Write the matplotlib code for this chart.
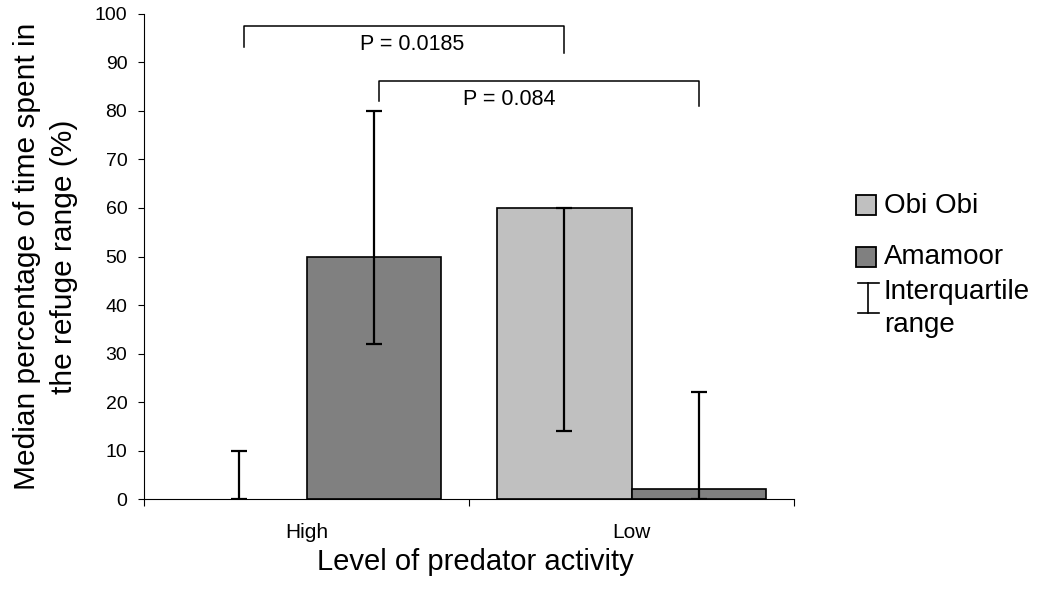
import matplotlib
matplotlib.use("Agg")
from matplotlib import pyplot as plt
from matplotlib.patches import Rectangle
from matplotlib.lines import Line2D
import numpy as np

plt.rcParams['font.family'] = ['Liberation Sans', 'DejaVu Sans']

# data
groups = ["High", "Low"]
sites = ["Obi Obi", "Amamoor"]
obi_median = [0, 60]
obi_q1 = [0, 14]
obi_q3 = [10, 60]
amamoor_median = [50, 2]
amamoor_q1 = [32, 0]
amamoor_q3 = [80, 22]
colors = ["#c0c0c0", "#808080"]

# pairwise comparisons: (site index, bracket top, left leg end, right leg end, label)
comp_site = [0, 1]
comp_top = [97.5, 86.2]
comp_left_end = [93.1, 82.1]
comp_right_end = [92.0, 81.0]
comp_label = ["P = 0.0185", "P = 0.084"]
comp_text_y = [92.5, 81.2]

fig = plt.figure(figsize=(10.52, 5.96), dpi=100)
ax = fig.add_axes([144/1052, 1-499.2/596, 650/1052, (499.2-13.8)/596])

width = 0.415
offsets = [0.5 - width/2, 0.5 + width/2]
x = np.arange(len(groups))

medians = [obi_median, amamoor_median]
q1s = [obi_q1, amamoor_q1]
q3s = [obi_q3, amamoor_q3]
centers = []
for i in range(2):
    xs = x + offsets[i]
    centers.append(xs)
    med = np.array(medians[i])
    lws = [1.2 if m > 0 else 0 for m in med]
    ax.bar(xs, med, width, color=colors[i], edgecolor="black", linewidth=lws, zorder=2)
    yerr = [med - np.array(q1s[i]), np.array(q3s[i]) - med]
    ax.errorbar(xs, med, yerr=yerr, fmt="none", ecolor="black", elinewidth=1.6,
                capsize=5.5, capthick=1.6, zorder=3)

# comparison brackets
for k in range(2):
    s = comp_site[k]
    x0 = centers[s][0] + 0.015
    x1 = centers[s][1]
    ax.plot([x0, x0, x1, x1], [comp_left_end[k], comp_top[k], comp_top[k], comp_right_end[k]],
            color="black", lw=1.1, clip_on=False, zorder=4)
tx = [0.825, 1.123]
for k in range(2):
    ax.text(tx[k], comp_text_y[k], comp_label[k], ha="center", va="baseline", fontsize=15.5)

ax.set_xlim(0, 2)
ax.set_ylim(0, 100)
ax.set_yticks(range(0, 101, 10))
ax.tick_params(axis="y", labelsize=14, length=4, width=0.8, pad=8, direction="out")
ax.set_xticks([0, 1, 2])
ax.set_xticklabels([])
ax.set_xticks(x + 0.5, minor=True)
ax.set_xticklabels(groups, minor=True)
ax.tick_params(axis="x", which="major", length=5, width=0.8, direction="out")
ax.tick_params(axis="x", which="minor", length=0, labelsize=15, pad=17)

for sp in ["top", "right"]:
    ax.spines[sp].set_visible(False)
for sp in ["left", "bottom"]:
    ax.spines[sp].set_linewidth(0.8)

ax.set_ylabel("Median percentage of time spent in\nthe refuge range (%)", fontsize=21.5,
              linespacing=1.4)
ax.yaxis.label.set_va("center")
ax.yaxis.set_label_coords(-0.151, 0.5)
ax.set_xlabel("Level of predator activity", fontsize=21)
ax.xaxis.label.set_va("top")
ax.xaxis.set_label_coords(0.51, -0.1)

# legend drawn by hand in figure pixels
def fx(px):
    return px / 1052
def fy(py):
    return 1 - py / 596

for i, (ytop, lab) in enumerate([(195, sites[0]), (246.5, sites[1])]):
    fig.add_artist(Rectangle((fx(856), fy(ytop + 20)), 20/1052, 20/596,
                             facecolor=colors[i], edgecolor="black", lw=1.3,
                             transform=fig.transFigure))
    fig.text(fx(884), fy(ytop + 11), lab, fontsize=20, va="center", ha="left")

fig.add_artist(Line2D([fx(868), fx(868)], [fy(283), fy(313)], color="black", lw=1.2,
                      transform=fig.transFigure))
fig.add_artist(Line2D([fx(858), fx(879)], [fy(283), fy(283)], color="black", lw=1.2,
                      transform=fig.transFigure))
fig.add_artist(Line2D([fx(858), fx(879)], [fy(313), fy(313)], color="black", lw=1.2,
                      transform=fig.transFigure))
fig.text(fx(884), fy(279), "Interquartile\nrange", fontsize=20, va="top", ha="left",
         linespacing=1.35)

fig.savefig("out.png", dpi=100)
